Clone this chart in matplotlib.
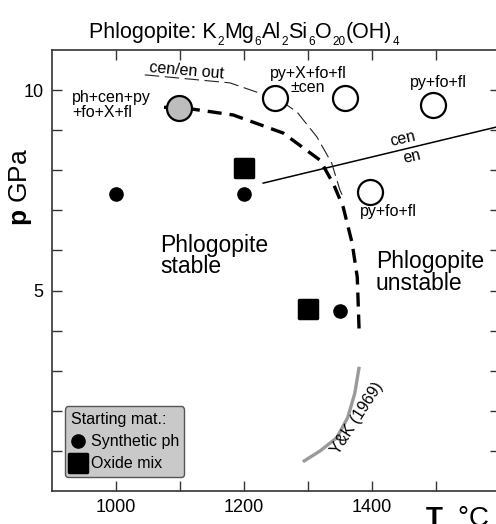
import matplotlib
matplotlib.use("Agg")
import matplotlib.pyplot as plt
from matplotlib.lines import Line2D
from matplotlib.markers import MarkerStyle

plt.rcParams['font.family'] = ['Liberation Sans', 'DejaVu Sans']
plt.rcParams['mathtext.fontset'] = 'custom'
plt.rcParams['mathtext.rm'] = 'Liberation Sans'
plt.rcParams['mathtext.it'] = 'Liberation Sans:italic'
plt.rcParams['mathtext.bf'] = 'Liberation Sans:bold'

# ---- data ----
synth_T = [1000, 1200, 1350]
synth_p = [7.4, 7.4, 4.5]
oxide_T = [1200, 1300]
oxide_p = [8.05, 4.55]
partial_T = [1098]
partial_p = [9.55]
open_T = [1248, 1358, 1495, 1397]
open_p = [9.8, 9.8, 9.63, 7.45]

# phlogopite breakdown curve (bold dashed)
ph_T = [1075, 1100, 1183, 1261, 1319, 1340, 1355, 1369, 1377, 1380]
ph_p = [9.57, 9.57, 9.38, 8.93, 8.25, 7.65, 7.08, 6.18, 5.33, 3.95]
# cen/en out (thin dashed)
cenout_T = [1045, 1178, 1256, 1283, 1314, 1337, 1350, 1356]
cenout_p = [10.38, 10.18, 9.75, 9.45, 8.83, 8.18, 7.5, 7.3]
# cen/en reaction (solid)
cenen_T = [1230, 1600]
cenen_p = [7.68, 9.1]
# Yoder & Kushiro 1969 (gray)
yk_T = [1292, 1319, 1345, 1362, 1373, 1380]
yk_p = [0.73, 1.0, 1.33, 1.83, 2.43, 3.1]

x_ticks = [1000, 1100, 1200, 1300, 1400, 1500]
x_labels = ['1000', '', '1200', '', '1400', '']
y_ticks = [1, 2, 3, 4, 5, 6, 7, 8, 9, 10]
y_labels = ['', '', '', '', '5', '', '', '', '', '10']

title_parts = [('Phlogopite: K', False), ('2', True), ('Mg', False), ('6', True),
               ('Al', False), ('2', True), ('Si', False), ('6', True),
               ('O', False), ('20', True), ('(OH)', False), ('4', True)]

fig = plt.figure(figsize=(4.96, 5.24), dpi=100)
ax = fig.add_axes([52/496, 33/524, 448/496, 441/524])
ax.set_xlim(900, 1600)
ax.set_ylim(0, 11)

ax.set_xticks(x_ticks)
ax.set_xticklabels(x_labels)
ax.set_yticks(y_ticks)
ax.set_yticklabels(y_labels)
ax.tick_params(direction='in', length=7, width=1.0, top=True, right=True,
               labelsize=13, color='#333333', pad=6)
for s in ax.spines.values():
    s.set_linewidth(1.2)
    s.set_color('#333333')

# lines
ax.plot(yk_T, yk_p, color='#9a9a9a', lw=2.4, solid_capstyle='butt')
ax.plot(cenen_T, cenen_p, color='black', lw=1.1)
l1, = ax.plot(cenout_T, cenout_p, color='#222222', lw=0.8)
l1.set_dashes([13, 5])
l2, = ax.plot(ph_T, ph_p, color='black', lw=2.4)
l2.set_dashes([4.2, 2.4])

# markers
sq = MarkerStyle('s', joinstyle='round')
ax.plot(open_T, open_p, 'o', ms=18, mfc='white', mec='black', mew=1.6, ls='none')
ax.plot(partial_T, partial_p, 'o', ms=18, mfc='#bdbdbd', mec='black', mew=1.6, ls='none')
ax.plot(synth_T, synth_p, 'o', ms=9.5, color='black', ls='none')
ax.plot(oxide_T, oxide_p, marker=sq, ms=13, color='black', mew=2.5, ls='none')

# texts
fs = 11.5
ax.text(931, 9.64, 'ph+cen+py\n+fo+X+fl', fontsize=fs, ha='left', va='center',
        linespacing=1.0)
ax.text(1110, 10.47, 'cen/en out', fontsize=fs, ha='center', va='center', rotation=-5)
ax.text(1300, 10.24, 'py+X+fo+fl\n±cen', fontsize=fs, ha='center', va='center',
        linespacing=0.95)
ax.text(1503, 10.2, 'py+fo+fl', fontsize=fs, ha='center', va='center')
ax.text(1448, 8.78, 'cen', fontsize=fs, ha='center', va='center', rotation=13)
ax.text(1462, 8.35, 'en', fontsize=fs, ha='center', va='center', rotation=13)
ax.text(1425, 6.96, 'py+fo+fl', fontsize=fs, ha='center', va='center')
ax.text(1069, 5.87, 'Phlogopite\nstable', fontsize=16.5, ha='left', va='center',
        linespacing=0.9)
ax.text(1406, 5.45, 'Phlogopite\nunstable', fontsize=16.5, ha='left', va='center',
        linespacing=0.9)
ax.text(1377, 1.82, 'Y&K (1969)', fontsize=11.5, ha='center', va='center', rotation=57)

# legend
handles = [Line2D([], [], marker='o', ms=9.5, color='black', ls='none'),
           Line2D([], [], marker=sq, ms=13, color='black', mew=2.5, ls='none')]
leg = ax.legend(handles, ['Synthetic ph', 'Oxide mix'], title='Starting mat.:',
                loc='lower left', bbox_to_anchor=(13/448, 14/441),
                fontsize=11.5, title_fontsize=11.5, frameon=True,
                facecolor='#c9c9c9', edgecolor='#555555', framealpha=1,
                fancybox=True, handlelength=0.9, handletextpad=0.35,
                labelspacing=0.45, borderpad=0.35, borderaxespad=0)
leg._legend_box.align = 'left'
leg.get_frame().set_linewidth(1.0)

# axis labels
ax.set_ylabel(r'$\mathbf{p}$ GPa', fontsize=19)
ax.yaxis.set_label_coords(-0.04, 0.69)
ax.set_xlabel(r'$\mathbf{T}$  °C', fontsize=20)
ax.xaxis.set_label_coords(0.905, -0.035)

# title with hand-placed subscripts
renderer = fig.canvas.get_renderer()
H = 524
x = 89.0
base = H - 38
for txt, sub in title_parts:
    if sub:
        t = fig.text(x, base - 7, txt, fontsize=8.5, ha='left', va='baseline',
                     transform=None)
    else:
        t = fig.text(x, base, txt, fontsize=15.5, ha='left', va='baseline',
                     transform=None)
    x += t.get_window_extent(renderer).width + 0.5

fig.savefig('out.png', dpi=100)
